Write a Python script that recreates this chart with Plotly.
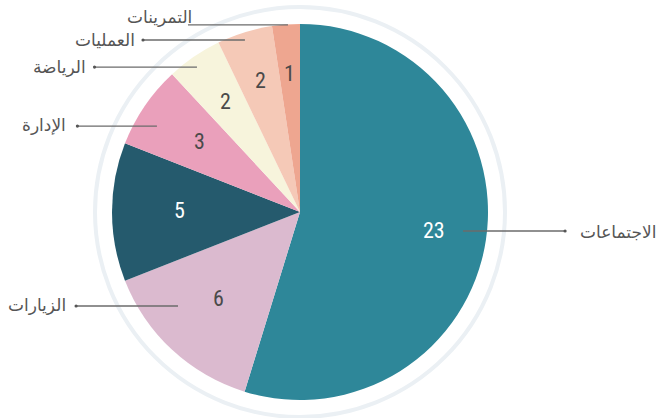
import math
import plotly.graph_objects as go

# Meeting categories and counts
categories = ["الاجتماعات", "الزيارات", "", "الإدارة", "الرياضة", "العمليات", "التمرينات"]
counts = [23, 6, 5, 3, 2, 2, 1]

slice_colors = ["#2e8799", "#dbbacf", "#255a6d", "#eaa0bb", "#f7f4dc", "#f5c9b7", "#eea690"]
number_colors = ["#ffffff", "#4a4a4a", "#ffffff", "#4a4a4a", "#4a4a4a", "#4a4a4a", "#4a4a4a"]

# Distance of each value label from the centre, as a fraction of the radius
number_radius = [0.72, 0.64, 0.64, 0.65, 0.70, 0.72, 0.73]

# Leader line layout, in units of the pie radius relative to its centre:
# (row below centre, inner end x, outer end x, text dx px, text dy px, show dot)
leaders = [
    (0.101, 0.867, 1.410, 13, 1, True),
    (0.500, -0.649, -1.191, -8, -1, True),
    None,
    (-0.457, -0.761, -1.184, -9, -1, True),
    (-0.771, -0.548, -1.093, -7, 0, True),
    (-0.915, -0.293, -0.835, -6, 0, True),
    (-0.995, -0.064, -0.596, 6, -8, False),
]

W, H = 662, 418
CX, CY, R = 300, 212, 188
RING_R = 205
NUM_LIFT = 2  # px, to centre the digits rather than the text box


def px(x):
    return x / W


def py(y):
    return 1 - y / H


fig = go.Figure(
    go.Pie(
        values=counts,
        labels=[c if c else " " for c in categories],
        sort=False,
        direction="clockwise",
        rotation=0,
        marker=dict(colors=slice_colors, line=dict(width=0)),
        textinfo="none",
        hoverinfo="label+value",
        showlegend=False,
        domain=dict(x=[px(CX - R), px(CX + R)], y=[py(CY + R), py(CY - R)]),
    )
)

shapes = [
    dict(
        type="circle", xref="paper", yref="paper", layer="below",
        x0=px(CX - RING_R), x1=px(CX + RING_R), y0=py(CY + RING_R), y1=py(CY - RING_R),
        line=dict(color="#ebf0f4", width=4),
    )
]
annotations = []

total = sum(counts)
cum = 0.0
for i, v in enumerate(counts):
    mid = (cum + v / 2) / total * 2 * math.pi
    cum += v
    nx = CX + number_radius[i] * R * math.sin(mid)
    ny = CY - number_radius[i] * R * math.cos(mid) - NUM_LIFT
    annotations.append(dict(
        x=px(nx), y=py(ny), xref="paper", yref="paper", text=str(v), showarrow=False,
        xanchor="center", yanchor="middle",
        font=dict(family="Liberation Sans Narrow, Roboto Condensed, Roboto, sans-serif",
                  size=22, color=number_colors[i]),
    ))

    ld = leaders[i]
    if ld is None or not categories[i]:
        continue
    row, xin, xout, tdx, tdy, dot = ld
    ly = CY + row * R
    x_in = CX + xin * R
    x_out = CX + xout * R
    shapes.append(dict(
        type="line", xref="paper", yref="paper",
        x0=px(x_in), x1=px(x_out), y0=py(ly), y1=py(ly),
        line=dict(color="#6b6b6b", width=1.3),
    ))
    if dot:
        shapes.append(dict(
            type="circle", xref="paper", yref="paper",
            x0=px(x_out - 1.6), x1=px(x_out + 1.6), y0=py(ly + 1.6), y1=py(ly - 1.6),
            fillcolor="#555555", line=dict(width=0),
        ))
    annotations.append(dict(
        x=px(x_out + tdx), y=py(ly + tdy), xref="paper", yref="paper",
        text=categories[i], showarrow=False,
        xanchor="left" if xout > 0 else "right", yanchor="middle",
        font=dict(family="DejaVu Sans, Noto Sans, sans-serif", size=17, color="#555555"),
    ))

fig.update_layout(
    width=W, height=H,
    margin=dict(l=0, r=0, t=0, b=0),
    paper_bgcolor="#ffffff",
    plot_bgcolor="#ffffff",
    shapes=shapes,
    annotations=annotations,
)

fig.write_html("out.html")
